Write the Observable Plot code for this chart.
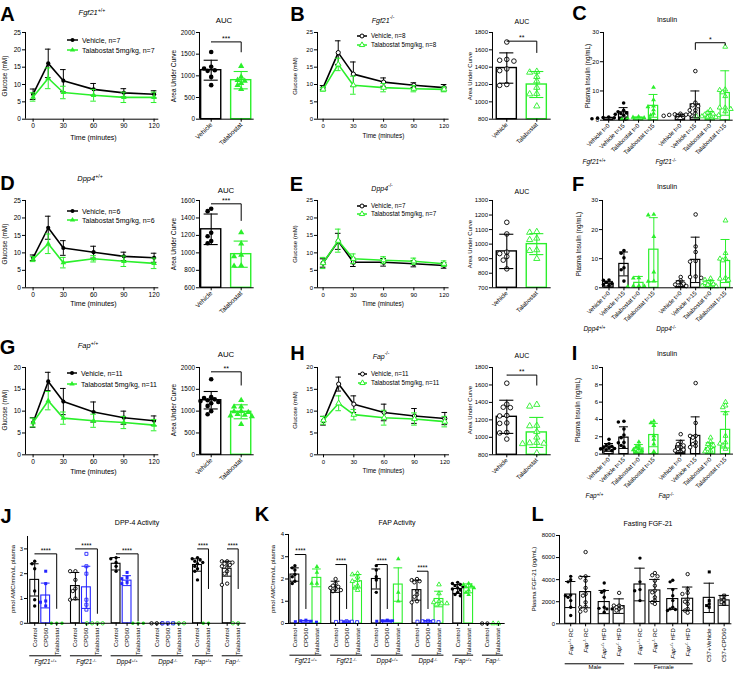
<!DOCTYPE html>
<html><head><meta charset="utf-8">
<script src="https://cdn.jsdelivr.net/npm/d3@7"></script>
<script src="https://cdn.jsdelivr.net/npm/@observablehq/plot@0.6"></script>
<style>
body{margin:0;background:#fff;}
#root{position:relative;width:743px;height:678px;overflow:hidden;background:#fff;font-family:"Liberation Sans",Arial,Helvetica,sans-serif;color:#000;}
.abs{position:absolute;white-space:nowrap;line-height:1;}
.abs sup{font-size:70%;vertical-align:super;line-height:0;}
</style></head><body><div id="root"></div>
<script>
// ================= DATA =================
const TIMES = [0, 15, 30, 60, 90, 120];
// Glucose tolerance (mM) mean / SD
const A_veh = [7.2, 16.1, 11.1, 8.6, 7.6, 7.2];
const A_vehSd = [1.5, 4.1, 3.2, 1.7, 1.2, 1.0];
const A_tal = [6.4, 11.8, 7.7, 6.9, 6.3, 6.3];
const A_talSd = [1.2, 3.0, 1.8, 1.7, 1.5, 1.5];
const B_veh = [9.1, 19.2, 13.0, 10.7, 9.8, 9.1];
const B_vehSd = [0.6, 3.4, 3.5, 1.2, 0.7, 0.9];
const B_tal = [8.6, 15.8, 9.8, 9.1, 8.8, 8.6];
const B_talSd = [0.5, 1.8, 2.6, 1.2, 0.9, 0.7];
const D_veh = [8.6, 17.2, 11.4, 10.2, 9.0, 8.6];
const D_vehSd = [0.8, 3.3, 2.1, 1.7, 1.2, 1.3];
const D_tal = [8.2, 12.6, 7.2, 8.3, 7.6, 7.0];
const D_talSd = [0.7, 2.8, 1.5, 0.9, 1.5, 1.5];
const E_veh = [7.1, 13.3, 7.3, 7.3, 6.9, 6.4];
const E_vehSd = [1.2, 2.3, 1.2, 1.1, 0.9, 0.8];
const E_tal = [7.1, 13.5, 8.3, 7.9, 7.6, 6.9];
const E_talSd = [1.6, 3.3, 1.4, 1.0, 0.9, 0.8];
const G_veh = [7.4, 16.8, 12.2, 9.8, 8.5, 7.8];
const G_vehSd = [1.1, 2.1, 3.0, 2.3, 1.5, 1.1];
const G_tal = [7.4, 12.4, 8.4, 7.8, 7.4, 6.8];
const G_talSd = [1.0, 2.1, 1.4, 1.5, 1.4, 1.3];
const H_veh = [7.8, 16.2, 11.6, 9.7, 8.9, 8.3];
const H_vehSd = [1.0, 1.6, 1.9, 1.9, 1.7, 1.4];
const H_tal = [7.9, 11.8, 9.2, 8.5, 8.2, 7.6];
const H_talSd = [0.9, 1.7, 1.2, 1.7, 1.4, 1.2];

// AUC
const AUC_LABELS = ["Vehicle", "Talabostat"];
const A_aucMean = [1130, 900], A_aucSd = [230, 200];
const A_aucVeh = [1550, 1170, 1210, 1115, 1130, 975, 785];
const A_aucTal = [1225, 975, 900, 785, 830, 690, 880];
const B_aucMean = [1390, 1200], B_aucSd = [175, 150];
const B_aucVeh = [1690, 1480, 1470, 1490, 1380, 1360, 1190, 1200];
const B_aucTal = [1350, 1340, 1290, 1240, 1165, 1095, 1090, 950];
const D_aucMean = [1270, 985], D_aucSd = [175, 150];
const D_aucVeh = [1505, 1478, 1230, 1190, 1135, 1110];
const D_aucTal = [1233, 1105, 975, 960, 855, 850];
const E_aucMean = [950, 1000], E_aucSd = [118, 72];
const E_aucVeh = [1150, 1070, 945, 935, 915, 890, 830];
const E_aucTal = [1085, 1080, 1040, 1030, 960, 955, 900];
const G_aucMean = [1250, 985], G_aucSd = [200, 160];
const G_aucVeh = [1730, 1320, 1300, 1270, 1250, 1230, 1210, 1180, 1120, 1000, 930];
const G_aucTal = [1250, 1100, 1100, 990, 975, 930, 895, 910, 880, 700, 1000];
const H_aucMean = [1235, 1056], H_aucSd = [190, 172];
const H_aucVeh = [1620, 1380, 1345, 1340, 1250, 1245, 1165, 1160, 1055, 1050, 980];
const H_aucTal = [1375, 1355, 1135, 1130, 1065, 1000, 940, 935, 930, 925, 820];

// Insulin (ng/mL)
const INS_LABELS = ["Vehicle t=0", "Vehicle t=15", "Talabostat t=0", "Talabostat t=15"];
const C_groups = ["_Fgf21_^+/+^", "_Fgf21_^-/-^"];
const C_means = [0.7, 2.7, 0.8, 4.9, 1.7, 5.4, 1.8, 9.3];
const C_sds = [0.3, 1.6, 0.3, 3.9, 0.4, 4.6, 1.1, 7.6];
const C_pts = [[1.1, 0.9, 0.7, 0.5, 0.6, 0.8, 0.4], [5.9, 3.4, 2.9, 2.5, 2.3, 2.0, 1.7], [1.2, 1.0, 0.8, 0.6, 0.5, 0.7], [11.2, 7.0, 4.8, 4.6, 3.5, 2.3, 1.7],
  [2.2, 2.0, 1.8, 1.6, 1.5, 1.3, 1.2, 1.9], [16.8, 5.1, 4.8, 3.4, 3.4, 2.3, 2.0, 6.0], [3.5, 2.6, 2.2, 1.9, 1.7, 1.5, 1.3, 1.0, 0.9, 1.2], [25.1, 10.5, 10.3, 8.2, 4.3, 4.3, 3.8, 3.0, 9.5]];
const F_groups = ["_Dpp4_^+/+^", "_Dpp4_^-/-^"];
const F_means = [1.4, 8.2, 1.7, 13.1, 1.4, 9.6, 1.4, 9.2];
const F_sds = [0.8, 4.1, 2.2, 11.0, 1.0, 7.8, 1.1, 7.4];
const F_pts = [[2.7, 2.6, 1.9, 1.1, 0.8, 1.5], [12.8, 11.9, 10.3, 6.9, 6.2, 2.3], [3.4, 3.3, 0.7, 0.6, 0.5, 0.4], [25.2, 25.0, 17.6, 5.4, 2.2, 2.3],
  [3.7, 2.5, 1.9, 1.4, 1.1, 0.8, 0.6], [25.2, 14.2, 12.3, 9.2, 9.0, 3.9, 3.4, 3.7], [3.2, 2.7, 2.0, 1.6, 1.2, 1.0, 0.7, 0.5, 0.4], [23.1, 11.9, 10.0, 10.0, 9.4, 3.4, 3.1, 2.7]];
const I_groups = ["_Fap_^+/+^", "_Fap_^-/-^"];
const I_means = [0.77, 1.9, 0.65, 2.2, 0.9, 2.1, 0.7, 2.8];
const I_sds = [0.45, 1.25, 0.45, 1.35, 0.7, 2.2, 0.6, 2.1];
const I_pts = [[1.7, 1.2, 1.0, 0.8, 0.65, 0.6, 0.5, 0.4, 0.9, 0.7], [3.8, 3.7, 2.9, 2.2, 1.9, 1.3, 1.0, 0.8, 1.35], [1.4, 1.0, 0.8, 0.6, 0.4, 0.3, 0.5], [3.8, 3.6, 3.3, 2.1, 1.7, 1.15, 0.3],
  [2.3, 1.4, 1.15, 1.0, 0.8, 0.6, 0.4, 0.3, 0.5], [8.2, 3.6, 2.1, 2.1, 1.9, 1.35, 1.15, 0.95, 0.8], [1.9, 1.4, 1.15, 1.0, 0.8, 0.6, 0.4, 0.3], [6.0, 5.6, 5.4, 4.7, 2.1, 1.35, 1.0, 1.2, 0.6]];

// Enzyme activity (pmol AMC/min/uL plasma)
const ACT_GROUPS = ["_Fgf21_^+/+^", "_Fgf21_^-/-^", "_Dpp4_^+/+^", "_Dpp4_^-/-^", "_Fap_^+/+^", "_Fap_^-/-^"];
const ACT_TREATS = [["Control", "CPD60", "Talabostat"], ["Control", "CPD60", "Talabostat"], ["Control", "CPD60", "Talabostat"], ["Control", "CPD60", "Talabostat"], ["Control", "Talabostat"], ["Control", "Talabostat"]];
const J_means = [1.75, 1.12, 0, 1.5, 1.45, 0, 2.4, 1.72, 0, 0, 0, 0, 2.35, 0, 2.2, 0];
const J_sds = [0.65, 0.5, 0, 0.55, 0.85, 0, 0.25, 0.2, 0, 0, 0, 0, 0.25, 0, 0.3, 0];
const J_pts = [[2.5, 2.4, 2.2, 1.3, 0.95, 0.7], [2.1, 1.6, 0.9, 0.85, 0.7], [0, 0, 0],
  [2.1, 2.1, 1.75, 1.4, 1.3, 1.0, 0.95], [2.8, 2.3, 2.0, 0.95, 0.75, 0.55], [0, 0, 0, 0],
  [2.65, 2.6, 2.45, 2.3, 2.1], [2.05, 1.85, 1.8, 1.65, 1.6], [0, 0, 0],
  [0, 0, 0], [0, 0, 0], [0, 0, 0],
  [2.65, 2.6, 2.55, 2.5, 2.45, 2.4, 2.3, 2.2, 2.1, 1.75], [0, 0],
  [2.5, 2.5, 2.45, 2.4, 2.35, 2.3, 2.25, 2.1, 2.0, 1.6, 1.55], [0, 0]];
const K_means = [2.2, 0.1, 2.05, 1.65, 0.08, 1.9, 2.0, 0.12, 1.75, 1.5, 0.1, 1.1, 1.55, 1.58, 0, 0];
const K_sds = [0.3, 0.04, 0.4, 0.25, 0.03, 0.3, 0.45, 0.03, 0.75, 0.45, 0.03, 0.35, 0.2, 0.2, 0, 0];
const K_pts = [[2.6, 2.5, 2.4, 2.2, 2.1, 1.9, 1.8], [0.15, 0.12, 0.1, 0.08, 0.06], [2.55, 2.3, 1.8, 1.8],
  [2.0, 1.8, 1.7, 1.65, 1.6, 1.55, 1.5, 1.45], [0.1, 0.08, 0.07, 0.06, 0.08], [2.25, 2.2, 2.1, 1.95, 1.9, 1.7, 1.6, 1.5],
  [2.6, 2.4, 2.1, 1.95, 1.4], [0.15, 0.12, 0.12, 0.1], [2.9, 1.4, 1.0],
  [2.0, 1.95, 1.9, 1.85, 1.45, 1.3, 1.2, 1.0, 0.95], [0.12, 0.1, 0.08, 0.06, 0.1], [1.75, 1.35, 1.0, 0.95, 0.9, 0.85, 0.9],
  [1.85, 1.8, 1.75, 1.7, 1.65, 1.6, 1.55, 1.5, 1.4, 1.3, 1.25], [1.8, 1.75, 1.7, 1.65, 1.6, 1.5, 1.4, 1.3],
  [0, 0], [0, 0]];

// Fasting FGF-21 (pg/mL)
const L_labels = ["_Fap_^+/+^ RC", "_Fap_^-/-^ RC", "_Fap_^+/+^ HFD", "_Fap_^-/-^ HFD", "_Fap_^+/+^ RC", "_Fap_^-/-^ RC", "_Fap_^+/+^ HFD", "_Fap_^-/-^ HFD", "C57+Vehicle", "C57+CPD60"];
const L_sexGroups = ["Male", "Female"];
const L_means = [2650, 2870, 1970, 1600, 3560, 3020, 2240, 2270, 2350, 2120];
const L_sds = [1180, 1420, 1050, 660, 1480, 1000, 940, 1060, 1330, 450];
const L_pts = [[4300, 4000, 3800, 2600, 2550, 2400, 2100, 1500, 750],
  [6500, 4300, 4200, 3900, 3250, 2700, 2550, 1950, 1550, 1500, 1200, 1100],
  [3700, 3000, 2850, 2400, 1500, 1350, 1350, 1050, 1400],
  [2800, 1650, 1650, 1500, 1500, 1350, 1200],
  [5950, 3800, 3100, 3000, 2100],
  [4600, 4400, 4300, 3900, 3450, 3000, 2850, 2400, 2100, 1950, 1800],
  [3950, 3800, 3100, 2550, 2100, 1500, 1350, 1200, 1300],
  [4500, 3150, 2800, 2700, 2200, 2000, 1800, 1350, 1200, 1000],
  [4700, 2100, 1800, 1650, 1500],
  [2550, 2400, 2150, 1950, 1800]];

// ================= STYLE / HELPERS =================
const FONT = '"Liberation Sans", Arial, Helvetica, sans-serif';
const BLACK = "#000000", GREEN = "#2bef2b", BLUE = "#2424ff";
const root = document.getElementById("root");

function richHTML(s) {
  return s.replace(/_([^_]+)_/g, "<i>$1</i>").replace(/\^([^^]+)\^/g, "<sup>$1</sup>");
}
function richify(svg) {
  svg.querySelectorAll("text").forEach(t => {
    if (t.querySelector("tspan")) return;
    const s = t.textContent;
    if (!/[_^]/.test(s)) return;
    t.textContent = "";
    for (const part of s.split(/(_[^_]+_|\^[^^]+\^)/)) {
      if (!part) continue;
      const ts = document.createElementNS("http://www.w3.org/2000/svg", "tspan");
      if (part.length > 1 && part[0] === "_" && part.endsWith("_")) { ts.setAttribute("font-style", "italic"); ts.textContent = part.slice(1, -1); }
      else if (part.length > 1 && part[0] === "^" && part.endsWith("^")) { ts.setAttribute("baseline-shift", "super"); ts.setAttribute("font-size", "70%"); ts.textContent = part.slice(1, -1); }
      else ts.textContent = part;
      t.appendChild(ts);
    }
  });
}
function label(text, cx, cy, size, opt = {}) {
  const d = document.createElement("div");
  d.className = "abs";
  d.innerHTML = richHTML(text);
  d.style.fontSize = size + "px";
  d.style.left = cx + "px";
  d.style.top = cy + "px";
  const ax = opt.anchor === "start" ? "0" : "-50%";
  d.style.transform = `translate(${ax},-50%)` + (opt.rotate ? ` rotate(${opt.rotate}deg)` : "");
  if (opt.bold) d.style.fontWeight = "bold";
  root.appendChild(d);
}
function symPath(sym, r) {
  const t = sym === "triangle" ? d3.symbolTriangle : sym === "square" ? d3.symbolSquare : d3.symbolCircle;
  return d3.symbol(t, Math.PI * r * r)();
}
function legend(x1, x2, tx, ys, size, items) {
  items.forEach((it, i) => {
    const s = document.createElementNS("http://www.w3.org/2000/svg", "svg");
    s.setAttribute("width", 20); s.setAttribute("height", 10);
    s.style.position = "absolute"; s.style.left = (x1 - 2) + "px"; s.style.top = (ys[i] - 5) + "px"; s.style.overflow = "visible";
    const w = x2 - x1;
    s.innerHTML = `<line x1="2" x2="${2 + w}" y1="5" y2="5" stroke="${it.color}" stroke-width="1.5"/>` +
      `<path transform="translate(${2 + w / 2},5)" d="${symPath(it.symbol, 2)}" fill="${it.open ? "white" : it.color}" stroke="${it.color}" stroke-width="${it.open ? 1 : 0}"/>`;
    root.appendChild(s);
    label(it.text, tx, ys[i], size, {anchor: "start"});
  });
}
function swarm(ys, minDist, slot) {
  const order = ys.map((_, i) => i).sort((a, b) => ys[b] - ys[a]);
  const placed = [], off = new Array(ys.length).fill(0);
  for (const i of order) {
    let chosen = 0;
    for (let k = 0; k < 15; k++) {
      const s = k === 0 ? 0 : (k % 2 ? -1 : 1) * Math.ceil(k / 2);
      const x = s * slot;
      if (placed.every(p => (p.x - x) ** 2 + (p.y - ys[i]) ** 2 >= minDist * minDist)) { chosen = x; break; }
    }
    off[i] = chosen;
    placed.push({x: chosen, y: ys[i]});
  }
  return off;
}
function makePlot(f, marks, fontSize) {
  const ml = 30, mr = 8, mt = 8, mb = 50;
  const width = ml + (f.x1 - f.x0) + mr, height = mt + (f.y1 - f.y0) + mb;
  const svg = Plot.plot({
    width, height, marginLeft: ml, marginRight: mr, marginTop: mt, marginBottom: mb,
    x: {domain: f.xdom}, y: {domain: f.ydom},
    color: {type: "identity"},
    style: {fontFamily: FONT, fontSize: fontSize + "px", overflow: "visible", background: "transparent", color: "#000"},
    marks
  });
  svg.style.position = "absolute";
  svg.style.left = (f.x0 - ml) + "px";
  svg.style.top = (f.y0 - mt) + "px";
  root.appendChild(svg);
  richify(svg);
}
function axisMarks(f, yticks, xopts) {
  return [
    Plot.ruleX([f.xdom[0]], {y1: () => f.ydom[0], y2: () => f.ydom[1], stroke: BLACK, strokeWidth: 1}),
    Plot.ruleY([f.ydom[0]], {x1: () => f.xdom[0], x2: () => f.xdom[1], stroke: BLACK, strokeWidth: 1}),
    Plot.axisY({ticks: yticks, tickSize: 3, tickPadding: 1.5, tickFormat: d => String(d), label: null}),
    Plot.axisX({tickSize: 3, tickPadding: 1.5, label: null, ...xopts})
  ];
}

// ---------- line chart (glucose tolerance) ----------
function lineChart(c) {
  const ppm = (c.p120 - c.p0) / 120;
  const f = {x0: c.ax0, x1: c.ax1, y0: c.yTop, y1: c.yBot, xdom: [(c.ax0 - c.p0) / ppm, (c.ax1 - c.p0) / ppm], ydom: c.ydom};
  const cap = 2.8 / ppm;
  const marks = axisMarks(f, c.yticks, {ticks: [0, 30, 60, 90, 120], tickFormat: d => String(d)});
  const series = [
    {m: c.veh, sd: c.vehSd, color: BLACK, symbol: "circle"},
    {m: c.tal, sd: c.talSd, color: GREEN, symbol: "triangle"}
  ];
  for (const s of series) {
    const rows = TIMES.map((t, i) => ({t, m: s.m[i], lo: s.m[i] - s.sd[i], hi: s.m[i] + s.sd[i]}));
    marks.push(
      Plot.ruleX(rows, {x: "t", y1: "lo", y2: "hi", stroke: s.color, strokeWidth: 1}),
      Plot.ruleY(rows, {y: "hi", x1: d => d.t - cap, x2: d => d.t + cap, stroke: s.color, strokeWidth: 1}),
      Plot.ruleY(rows, {y: "lo", x1: d => d.t - cap, x2: d => d.t + cap, stroke: s.color, strokeWidth: 1}),
      Plot.line(rows, {x: "t", y: "m", stroke: s.color, strokeWidth: 1.6}),
      Plot.dot(rows, {x: "t", y: "m", r: 2.1, symbol: s.symbol, fill: c.open ? "white" : s.color, stroke: s.color, strokeWidth: c.open ? 1 : 0})
    );
  }
  makePlot(f, marks, c.font);
}

// ---------- bar + scatter chart ----------
function barPanel(o) {
  const f = {x0: o.ax0, x1: o.ax1, y0: o.yTop, y1: o.yBot, xdom: [(o.ax0 - o.p0) / o.step, (o.ax1 - o.p0) / o.step], ydom: o.ydom};
  const y0 = o.ydom[0];
  const pxY = (o.yBot - o.yTop) / (o.ydom[1] - o.ydom[0]);
  const pts = [];
  o.cats.forEach(c => {
    const off = swarm(c.pts.map(v => (v - y0) * pxY), o.r * 1.75, o.r * 1.55);
    c.pts.forEach((v, i) => pts.push({x: c.pos + off[i] / o.step, y: v, color: c.color, symbol: c.symbol, open: c.open}));
  });
  const bars = o.cats.filter(c => c.mean > y0);
  const errs = o.cats.filter(c => c.sd > 0).map(c => ({...c, lo: Math.max(y0, c.mean - c.sd), hi: c.mean + c.sd, loCap: c.mean - c.sd >= y0}));
  const names = new Map(o.cats.map(c => [c.pos, c.label]));
  const marks = [
    Plot.rectY(bars, {x1: c => c.pos - o.bw / 2, x2: c => c.pos + o.bw / 2, y1: () => y0, y2: "mean", fill: "white", stroke: "color", strokeWidth: o.barStroke})
  ];
  for (const sym of ["circle", "triangle", "square"]) for (const open of [false, true]) {
    const sub = pts.filter(p => p.symbol === sym && p.open === open);
    if (sub.length) marks.push(Plot.dot(sub, {x: "x", y: "y", r: o.r, symbol: sym, fill: open ? "white" : "color", stroke: "color", strokeWidth: open ? 0.9 : 0}));
  }
  marks.push(
    Plot.ruleX(errs, {x: "pos", y1: "lo", y2: "hi", stroke: "color", strokeWidth: o.errStroke}),
    Plot.ruleY(errs, {y: "hi", x1: c => c.pos - o.cap / 2, x2: c => c.pos + o.cap / 2, stroke: "color", strokeWidth: o.errStroke}),
    Plot.ruleY(errs.filter(c => c.loCap), {y: "lo", x1: c => c.pos - o.cap / 2, x2: c => c.pos + o.cap / 2, stroke: "color", strokeWidth: o.errStroke})
  );
  marks.push(...axisMarks(f, o.yticks, {ticks: o.cats.map(c => c.pos), tickFormat: p => names.get(p), tickRotate: o.rot}));
  if (o.brackets) {
    const bl = [], bt = [];
    o.brackets.forEach((b, i) => {
      const xa = o.cats[b.from].pos, xb = o.cats[b.to].pos;
      bl.push({id: i, x: xa, y: b.yl}, {id: i, x: xa, y: b.y}, {id: i, x: xb, y: b.y}, {id: i, x: xb, y: b.yr});
      bt.push({x: (xa + xb) / 2, y: b.y, text: b.text});
    });
    marks.push(
      Plot.line(bl, {x: "x", y: "y", z: "id", stroke: BLACK, strokeWidth: 1}),
      Plot.text(bt, {x: "x", y: "y", text: "text", dy: -3.2, fontSize: o.starFont || 7})
    );
  }
  if (o.groups) {
    marks.push(Plot.text(o.groups, {x: "x", text: "label", frameAnchor: "bottom", dy: o.groupDy, dx: o.groupDx || 0, fontSize: o.groupFont}));
    if (o.underDy != null) marks.push(Plot.ruleY(o.groups.filter(g => g.x2 != null), {y: () => y0, x1: "x1", x2: "x2", dy: o.underDy, stroke: BLACK, strokeWidth: 1}));
  }
  makePlot(f, marks, o.font);
}

function aucChart(c) {
  const cats = [
    {pos: 0, label: AUC_LABELS[0], mean: c.means[0], sd: c.sds[0], pts: c.veh, color: BLACK, symbol: "circle", open: c.open},
    {pos: 1, label: AUC_LABELS[1], mean: c.means[1], sd: c.sds[1], pts: c.tal, color: GREEN, symbol: "triangle", open: c.open}
  ];
  barPanel({ax0: c.ax0, p0: c.p0, step: 30, ax1: c.ax1, yTop: c.yTop, yBot: c.yBot, ydom: c.ydom, yticks: c.yticks,
    cats, bw: 0.67, cap: 0.47, r: 2.3, rot: -45, barStroke: 1.4, errStroke: 1.1, font: c.font, brackets: c.brackets});
}

function positionsFromGaps(gaps) {
  const p = [0];
  gaps.forEach(g => p.push(p[p.length - 1] + g));
  return p;
}

function insulinChart(c) {
  const pos = positionsFromGaps([1, 1, 1, 1.8, 1, 1, 1]);
  const cats = pos.map((p, i) => {
    const tr = i % 4, ko = i >= 4;
    const veh = tr < 2;
    return {pos: p, label: INS_LABELS[tr], mean: c.means[i], sd: c.sds[i], pts: c.pts[i],
      color: veh ? BLACK : GREEN, symbol: veh ? "circle" : "triangle", open: ko};
  });
  const groups = c.groups.map((g, gi) => ({label: g, x: (pos[gi * 4] + pos[gi * 4 + 3]) / 2}));
  barPanel({ax0: c.ax0, p0: 608.5, step: 14.94, ax1: 733, yTop: c.yTop, yBot: c.yBot, ydom: c.ydom, yticks: c.yticks,
    cats, bw: 0.62, cap: 0.6, r: 1.8, rot: -45, barStroke: 1.2, errStroke: 1, font: 6,
    brackets: c.brackets, groups, groupDy: 43.5, groupDx: -37, groupFont: 6.5});
}

function activityChart(c) {
  const gaps = [];
  ACT_TREATS.forEach((tr, gi) => tr.forEach((t, ti) => { if (gi + ti > 0) gaps.push(ti === 0 ? 1.7 : 1); }));
  const pos = positionsFromGaps(gaps);
  const cats = [];
  const groups = [];
  let k = 0;
  ACT_TREATS.forEach((tr, gi) => {
    const first = k;
    tr.forEach(t => {
      const color = t === "Control" ? BLACK : t === "CPD60" ? BLUE : GREEN;
      const symbol = t === "Control" ? "circle" : t === "CPD60" ? "square" : c.talSymbol;
      cats.push({pos: pos[k], label: t, mean: c.means[k], sd: c.sds[k], pts: c.pts[k], color, symbol, open: gi % 2 === 1});
      k++;
    });
    const a = pos[first], b = pos[k - 1];
    groups.push({label: ACT_GROUPS[gi], x: (a + b) / 2, x1: a - 0.45, x2: b + 0.45});
  });
  barPanel({ax0: c.ax0, p0: c.p0, step: 11, ax1: c.ax1, yTop: c.yTop, yBot: c.yBot, ydom: c.ydom, yticks: c.yticks,
    cats, bw: 0.8, cap: 0.8, r: 1.7, rot: -90, barStroke: 1.1, errStroke: 1, font: 6,
    brackets: c.brackets, groups, groupDy: c.groupDy, underDy: c.underDy, groupFont: 6.3, starFont: 6.5});
}

function fgfChart() {
  const pos = positionsFromGaps([1, 1.25, 1, 1.4, 1, 1.2, 1, 1.45, 1]);
  const cats = pos.map((p, i) => ({pos: p, label: L_labels[i], mean: L_means[i], sd: L_sds[i], pts: L_pts[i], color: BLACK,
    symbol: i >= 8 ? "square" : "circle", open: i % 2 === 1}));
  const groups = L_sexGroups.map((g, gi) => ({label: g, x: (pos[gi * 4] + pos[gi * 4 + 3]) / 2, x1: pos[gi * 4] - 0.37, x2: pos[gi * 4 + 3] + 0.37}));
  barPanel({ax0: 559.3, p0: 570.5, step: 14.9, ax1: 731.7, yTop: 535, yBot: 623.3, ydom: [0, 8000], yticks: [0, 2000, 4000, 6000, 8000],
    cats, bw: 0.74, cap: 0.7, r: 1.7, rot: -90, barStroke: 1.1, errStroke: 1, font: 6,
    groups, groupDy: 45.5, underDy: 40, groupFont: 6});
}

// ================= DRAW =================
const GLU_TICKS25 = [0, 5, 10, 15, 20, 25], GLU_TICKS20 = [0, 5, 10, 15, 20];
const L_COL = {ax0: 24.7, p0: 32.3, p120: 153.3, ax1: 158, font: 6.6, open: false};
const R_COL = {ax0: 316.7, p0: 322.3, p120: 443.3, ax1: 448.3, font: 6, open: true};
const ROW1 = {yTop: 32.3, yBot: 119}, ROW2 = {yTop: 200, yBot: 287.3}, ROW3 = {yTop: 366.7, yBot: 454};

lineChart({...L_COL, ...ROW1, ydom: [0, 25], yticks: GLU_TICKS25, veh: A_veh, vehSd: A_vehSd, tal: A_tal, talSd: A_talSd});
lineChart({...R_COL, ...ROW1, ydom: [0, 25], yticks: GLU_TICKS25, veh: B_veh, vehSd: B_vehSd, tal: B_tal, talSd: B_talSd});
lineChart({...L_COL, ...ROW2, ydom: [0, 25], yticks: GLU_TICKS25, veh: D_veh, vehSd: D_vehSd, tal: D_tal, talSd: D_talSd});
lineChart({...R_COL, ...ROW2, ydom: [0, 25], yticks: GLU_TICKS25, veh: E_veh, vehSd: E_vehSd, tal: E_tal, talSd: E_talSd});
lineChart({...L_COL, ...ROW3, ydom: [0, 20], yticks: GLU_TICKS20, veh: G_veh, vehSd: G_vehSd, tal: G_tal, talSd: G_talSd});
lineChart({...R_COL, ax0: 316.7, p0: 322.7, p120: 444, ax1: 448.7, ...ROW3, ydom: [0, 20], yticks: GLU_TICKS20, veh: H_veh, vehSd: H_vehSd, tal: H_tal, talSd: H_talSd});

const AUC_L = {ax0: 199.3, p0: 211, ax1: 254, font: 6.4, open: false};
const AUC_R = {ax0: 492.3, p0: 506.6, ax1: 551, font: 6, open: true};
aucChart({...AUC_L, ...ROW1, ydom: [0, 2000], yticks: [0, 500, 1000, 1500, 2000], means: A_aucMean, sds: A_aucSd, veh: A_aucVeh, tal: A_aucTal,
  brackets: [{from: 0, to: 1, y: 1783, yl: 1783, yr: 1553, text: "***"}]});
aucChart({...AUC_R, ...ROW1, ydom: [800, 1800], yticks: [800, 1000, 1200, 1400, 1600, 1800], means: B_aucMean, sds: B_aucSd, veh: B_aucVeh, tal: B_aucTal,
  brackets: [{from: 0, to: 1, y: 1700, yl: 1700, yr: 1569, text: "**"}]});
aucChart({...AUC_L, ...ROW2, ydom: [600, 1600], yticks: [600, 800, 1000, 1200, 1400, 1600], means: D_aucMean, sds: D_aucSd, veh: D_aucVeh, tal: D_aucTal,
  brackets: [{from: 0, to: 1, y: 1562, yl: 1562, yr: 1371, text: "***"}]});
aucChart({...AUC_R, ...ROW2, ydom: [700, 1300], yticks: [700, 800, 900, 1000, 1100, 1200, 1300], means: E_aucMean, sds: E_aucSd, veh: E_aucVeh, tal: E_aucTal});
aucChart({...AUC_L, ...ROW3, ydom: [0, 2000], yticks: [0, 500, 1000, 1500, 2000], means: G_aucMean, sds: G_aucSd, veh: G_aucVeh, tal: G_aucTal,
  brackets: [{from: 0, to: 1, y: 1901, yl: 1901, yr: 1597, text: "**"}]});
aucChart({...AUC_R, ...ROW3, ydom: [800, 1800], yticks: [800, 1000, 1200, 1400, 1600, 1800], means: H_aucMean, sds: H_aucSd, veh: H_aucVeh, tal: H_aucTal,
  brackets: [{from: 0, to: 1, y: 1713, yl: 1713, yr: 1598, text: "**"}]});

insulinChart({ax0: 603.3, yTop: 32.3, yBot: 120, ydom: [0, 30], yticks: [0, 10, 20, 30], means: C_means, sds: C_sds, pts: C_pts, groups: C_groups,
  brackets: [{from: 5, to: 7, y: 26.5, yl: 24.2, yr: 25.7, text: "*"}]});
insulinChart({ax0: 602, yTop: 200, yBot: 287.3, ydom: [0, 30], yticks: [0, 10, 20, 30], means: F_means, sds: F_sds, pts: F_pts, groups: F_groups});
insulinChart({ax0: 602, yTop: 366.7, yBot: 453.3, ydom: [0, 10], yticks: [0, 2, 4, 6, 8, 10], means: I_means, sds: I_sds, pts: I_pts, groups: I_groups});

activityChart({ax0: 27.3, p0: 34.5, ax1: 246, yTop: 535.9, yBot: 622.7, ydom: [0, 3.5], yticks: [0, 1, 2, 3],
  means: J_means, sds: J_sds, pts: J_pts, talSymbol: "circle", groupDy: 40.5, underDy: 32.5,
  brackets: [{from: 0, to: 2, y: 2.8, yl: 2.8, yr: 0.6, text: "****"}, {from: 3, to: 5, y: 3.0, yl: 3.0, yr: 0.4, text: "****"},
    {from: 6, to: 8, y: 2.8, yl: 2.8, yr: 0.1, text: "****"}, {from: 12, to: 13, y: 3.0, yl: 3.0, yr: 1.4, text: "****"},
    {from: 14, to: 15, y: 3.0, yl: 3.0, yr: 1.4, text: "****"}]});
activityChart({ax0: 288.3, p0: 294.7, ax1: 505, yTop: 534.3, yBot: 623.3, ydom: [0, 4], yticks: [0, 1, 2, 3, 4],
  means: K_means, sds: K_sds, pts: K_pts, talSymbol: "triangle", groupDy: 39.7, underDy: 31.7,
  brackets: [{from: 0, to: 1, y: 3.1, yl: 3.1, yr: 0.67, text: "****"}, {from: 3, to: 4, y: 2.65, yl: 2.65, yr: 0.67, text: "****"},
    {from: 6, to: 7, y: 2.65, yl: 2.65, yr: 0.67, text: "****"}, {from: 9, to: 10, y: 2.35, yl: 2.35, yr: 0.67, text: "****"}]});
fgfChart();

// ---------- HTML text: letters, titles, axis titles, legends ----------
[["A", 7.5, 14], ["B", 297.5, 13.5], ["C", 579.5, 12.5], ["D", 7.5, 182.5], ["E", 296.5, 183.5], ["F", 578, 183.5],
 ["G", 7.5, 346.5], ["H", 297.5, 353], ["I", 574.5, 352.5], ["J", 6, 516], ["K", 262, 513.5], ["L", 537.5, 513.5]]
  .forEach(([t, x, y]) => label(t, x, y, 20, {bold: true}));

[["_Fgf21_^+/+^", 92, 13, 7.5], ["AUC", 224, 21, 7.8], ["_Fgf21_^-/-^", 383, 20, 7], ["AUC", 522, 21, 7], ["Insulin", 667, 19, 7],
 ["_Dpp4_^+/+^", 90, 179, 7.5], ["AUC", 226, 191, 7.8], ["_Dpp4_^-/-^", 382, 188, 7], ["AUC", 522, 191, 7], ["Insulin", 667, 186, 7],
 ["_Fap_^+/+^", 88, 346, 7.5], ["AUC", 226, 355, 7.8], ["_Fap_^-/-^", 381, 356, 7], ["AUC", 522, 355, 7], ["Insulin", 667, 353, 7],
 ["DPP-4 Activity", 137, 522, 7], ["FAP Activity", 397, 522, 7], ["Fasting FGF-21", 648, 523, 7]]
  .forEach(([t, x, y, s]) => label(t, x, y, s));

[[5, 75.7, 6.5], [295, 75.7, 6], [5, 243.7, 6.5], [295, 243.7, 6], [5, 410.3, 6.5], [295, 410.3, 6]]
  .forEach(([x, y, s]) => label("Glucose (mM)", x, y, s, {rotate: -90}));
[[174, 75.7, 6.5], [470, 75.7, 6], [174, 243.7, 6.5], [470, 243.7, 6], [174, 410.3, 6.5], [470, 410.3, 6]]
  .forEach(([x, y, s]) => label("Area Under Curve", x, y, s, {rotate: -90}));
[[588, 76], [578.5, 243.7], [577.5, 410]].forEach(([x, y]) => label("Plasma Insulin (ng/mL)", x, y, 6.3, {rotate: -90}));
label("pmol AMC/min/uL plasma", 12.5, 579, 6, {rotate: -90});
label("pmol AMC/min/uL plasma", 272.5, 579, 6, {rotate: -90});
label("Plasma FGF-21 (pg/mL)", 534, 579, 6, {rotate: -90});
[[93.5, 136.5, 7], [383.5, 136, 6.3], [93.5, 303.3, 7], [383, 304, 6.3], [93.5, 471, 7], [383.5, 471, 6.3]]
  .forEach(([x, y, s]) => label("Time (minutes)", x, y, s));

const legItems = (n, open) => [
  {text: `Vehicle, n=${n}`, color: BLACK, symbol: "circle", open},
  {text: `Talabostat 5mg/kg, n=${n}`, color: GREEN, symbol: "triangle", open}
];
legend(67, 78, 82, [40, 50], 7, legItems(7, false));
legend(357, 367, 371, [36, 44.5], 6.3, legItems(8, true));
legend(67, 78, 82, [210.7, 220], 7, legItems(6, false));
legend(357, 367, 371, [205.7, 213.7], 6.3, legItems(7, true));
legend(67, 77, 81, [373.3, 384.3], 7, legItems(11, false));
legend(358, 367, 371, [374.3, 383.3], 6.3, legItems(11, true));
</script></body></html>
